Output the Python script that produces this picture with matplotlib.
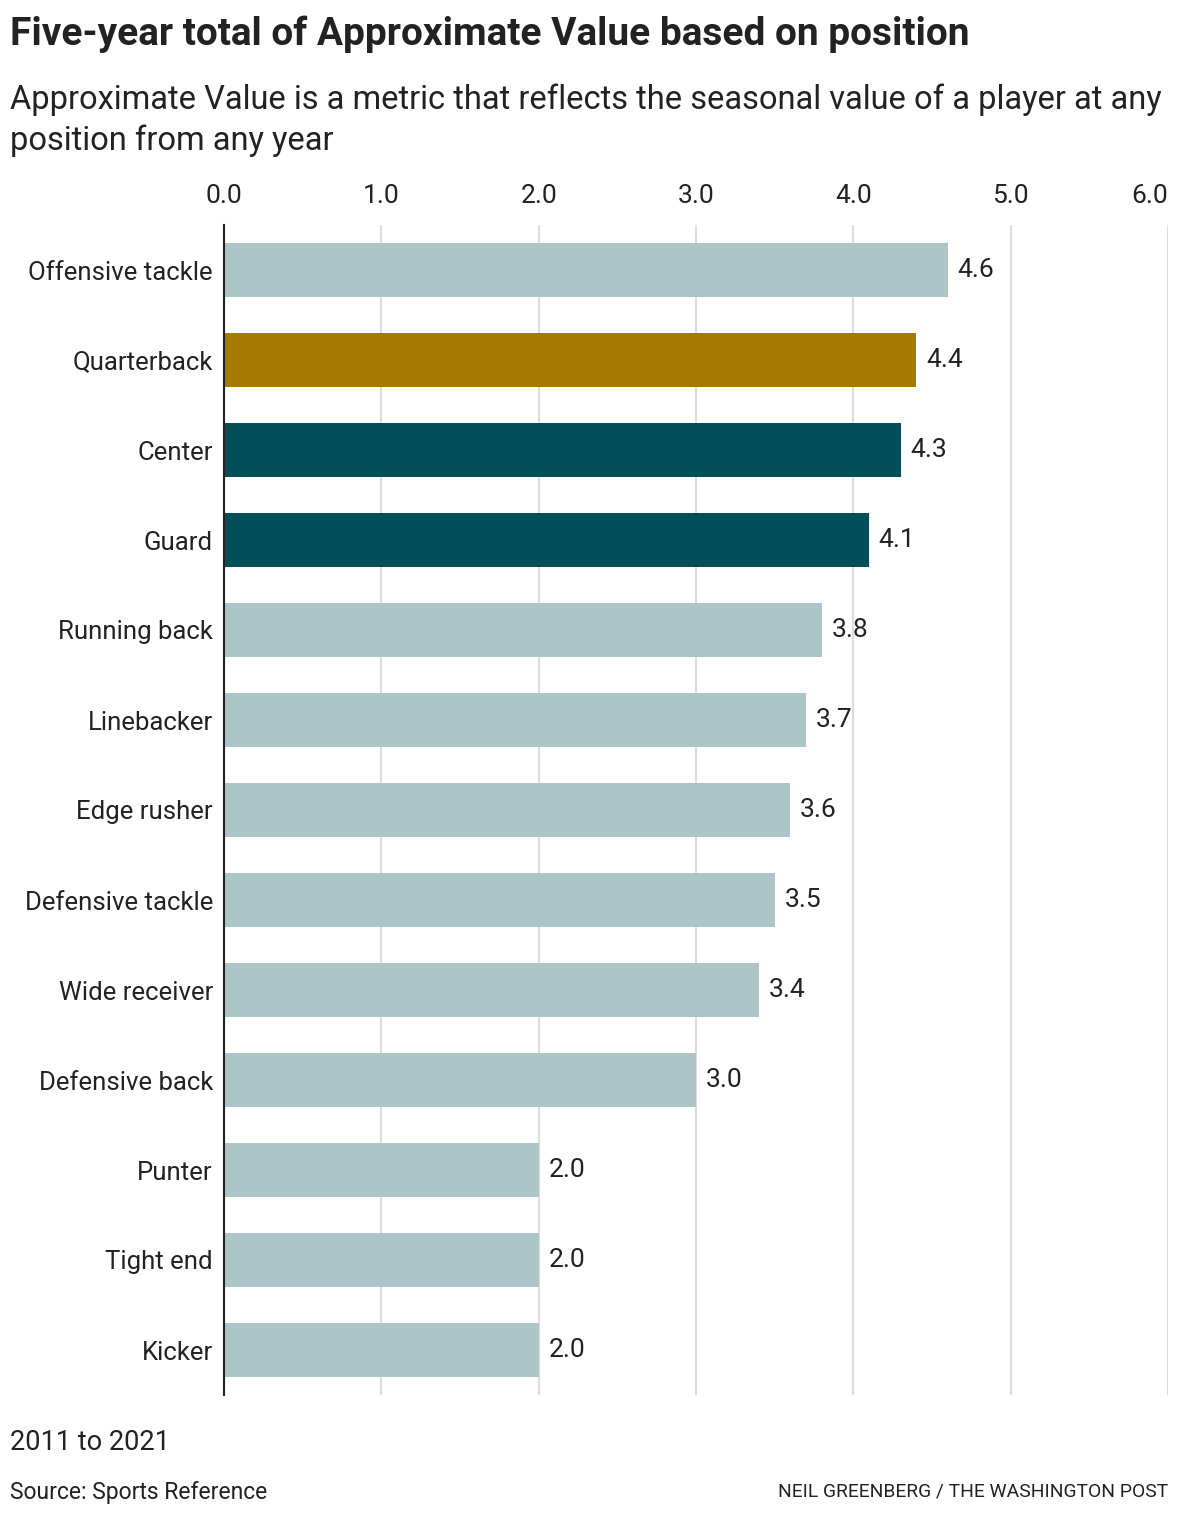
import matplotlib
matplotlib.use("Agg")
import matplotlib.pyplot as plt

positions = ["Offensive tackle", "Quarterback", "Center", "Guard", "Running back",
             "Linebacker", "Edge rusher", "Defensive tackle", "Wide receiver",
             "Defensive back", "Punter", "Tight end", "Kicker"]
values = [4.6, 4.4, 4.3, 4.1, 3.8, 3.7, 3.6, 3.5, 3.4, 3.0, 2.0, 2.0, 2.0]
highlight = {"Quarterback": "#a57a00", "Center": "#024f59", "Guard": "#024f59"}
base_color = "#abc5c9"
x_ticks = [0, 1, 2, 3, 4, 5, 6]

plt.rcParams["font.family"] = ["Roboto", "DejaVu Sans"]
text_color = "#222222"

fig = plt.figure(figsize=(11.8, 15.16), dpi=100)
ax = fig.add_axes([224 / 1180, 1 - 1395 / 1516, 944 / 1180, 1170 / 1516])

colors = [highlight.get(p, base_color) for p in positions]
ypos = list(range(len(positions)))
ax.barh(ypos, values, height=0.6, color=colors, zorder=2)

for y, v in zip(ypos, values):
    ax.annotate(f"{v:.1f}", (v, y), xytext=(7, 0), textcoords="offset points",
                va="center", ha="left", fontsize=19, color=text_color)

ax.set_xlim(0, 6)
ax.set_ylim(len(positions) - 0.5, -0.5)
ax.set_xticks(x_ticks)
ax.set_xticklabels([f"{t:.1f}" for t in x_ticks], fontsize=19, color=text_color)
ax.xaxis.tick_top()
ax.tick_params(axis="x", length=0, pad=12)
# last label sits flush with the right edge
ax.xaxis.get_major_ticks()[-1].label2.set_horizontalalignment("right")
ax.set_yticks(ypos)
ax.set_yticklabels(positions, fontsize=18.5, color=text_color)
ax.tick_params(axis="y", length=0, pad=8)
ax.grid(axis="x", color="#dddddd", linewidth=1.5, zorder=0)
for s in ["top", "right", "bottom"]:
    ax.spines[s].set_visible(False)
ax.spines["left"].set_color("#222222")
ax.spines["left"].set_linewidth(1.5)
ax.spines["left"].set_zorder(3)

fig.text(10 / 1180, 1 - 34 / 1516, "Five-year total of Approximate Value based on position",
         fontsize=28, fontweight="bold", color=text_color, va="center", ha="left")
fig.text(10 / 1180, 1 - 100 / 1516,
         "Approximate Value is a metric that reflects the seasonal value of a player at any",
         fontsize=23.5, color=text_color, va="center", ha="left")
fig.text(10 / 1180, 1 - 141 / 1516, "position from any year",
         fontsize=23.5, color=text_color, va="center", ha="left")
fig.text(10 / 1180, 1 - 1443 / 1516, "2011 to 2021",
         fontsize=19.5, color=text_color, va="center", ha="left")
fig.text(10 / 1180, 1 - 1492 / 1516, "Source: Sports Reference",
         fontsize=16.5, color=text_color, va="center", ha="left")
fig.text(1168 / 1180, 1 - 1491 / 1516, "NEIL GREENBERG / THE WASHINGTON POST",
         fontsize=13.9, color=text_color, va="center", ha="right")

fig.savefig("out.png", dpi=100)
